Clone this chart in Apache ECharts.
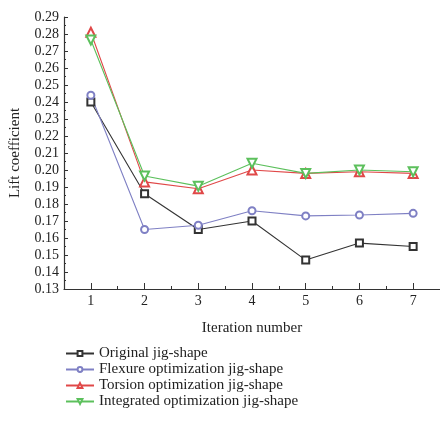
<!DOCTYPE html>
<html>
<head>
<meta charset="utf-8">
<script src="https://cdn.jsdelivr.net/npm/echarts@6/dist/echarts.min.js"></script>
<style>
  html, body { margin: 0; padding: 0; background: #fff; }
  #chart { width: 440px; height: 422px; }
</style>
</head>
<body>
<div id="chart"></div>
<script>
// 迭代次数
var iterations = [1, 2, 3, 4, 5, 6, 7];
var yTicks = [0.13, 0.29, 0.01];

// 各方案的升力系数
var original = [0.240, 0.186, 0.165, 0.170, 0.147, 0.157, 0.155];
var flexure = [0.244, 0.165, 0.1675, 0.176, 0.173, 0.1735, 0.1745];
var torsion = [0.281, 0.193, 0.189, 0.200, 0.198, 0.199, 0.198];
var integrated = [0.2765, 0.1965, 0.1905, 0.204, 0.198, 0.200, 0.199];

var names = ['Original jig-shape', 'Flexure optimization jig-shape',
  'Torsion optimization jig-shape', 'Integrated optimization jig-shape'];

function pairs(vals) {
  return vals.map(function (v, i) { return [iterations[i], v]; });
}

var font = 'Liberation Serif';
var chart = echarts.init(document.getElementById('chart'));

function mk(name, vals, color, symbol, size, rotate) {
  return {
    name: name,
    type: 'line',
    data: pairs(vals),
    symbol: symbol,
    symbolSize: size,
    symbolRotate: rotate || 0,
    lineStyle: { color: color, width: 1.1 },
    itemStyle: { color: color, borderWidth: 1 },
    animation: false
  };
}

var option = {
  textStyle: { fontFamily: font },
  grid: { left: 63, right: 0, top: 17, bottom: 133 },
  legend: {
    orient: 'vertical',
    left: 60,
    top: 341,
    height: 90,
    itemWidth: 28,
    itemHeight: 6,
    itemGap: 1,
    textStyle: { fontFamily: font, fontSize: 15, color: '#222' },
    data: names
  },
  xAxis: [{
    type: 'value',
    min: 0.5,
    max: 7.5,
    name: 'Iteration number',
    nameLocation: 'middle',
    nameGap: 32,
    nameTextStyle: { fontFamily: font, fontSize: 15, color: '#222' },
    axisLine: { lineStyle: { color: '#333', width: 1.2 } },
    axisTick: { inside: true, length: 6, customValues: iterations, lineStyle: { color: '#333' } },
    axisLabel: { customValues: iterations, margin: 5, fontFamily: font, fontSize: 14, color: '#222' },
    splitLine: { show: false }
  }, {
    type: 'value',
    min: 0.5,
    max: 7.5,
    interval: 1,
    position: 'bottom',
    axisLine: { show: false },
    axisTick: { inside: true, length: 3, lineStyle: { color: '#333' } },
    axisLabel: { show: false },
    splitLine: { show: false }
  }],
  yAxis: {
    type: 'value',
    min: yTicks[0],
    max: yTicks[1],
    interval: yTicks[2],
    name: 'Lift coefficient',
    nameLocation: 'middle',
    nameGap: 41,
    nameTextStyle: { fontFamily: font, fontSize: 15, color: '#222' },
    axisLine: { show: true, lineStyle: { color: '#333', width: 1.2 } },
    axisTick: { show: true, inside: true, length: 4, lineStyle: { color: '#333' } },
    minorTick: { show: true, splitNumber: 2, length: 2, lineStyle: { color: '#333' } },
    axisLabel: {
      margin: 5, fontFamily: font, fontSize: 14, color: '#222',
      formatter: function (v) { return v.toFixed(2); }
    },
    splitLine: { show: false }
  },
  series: [
    mk(names[0], original, '#333333', 'emptyRect', 7),
    mk(names[1], flexure, '#7f80c4', 'emptyCircle', 7),
    mk(names[2], torsion, '#e04848', 'emptyTriangle', 9),
    mk(names[3], integrated, '#5cc05c', 'emptyTriangle', 9, 180)
  ]
};

chart.setOption(option);
</script>
</body>
</html>
